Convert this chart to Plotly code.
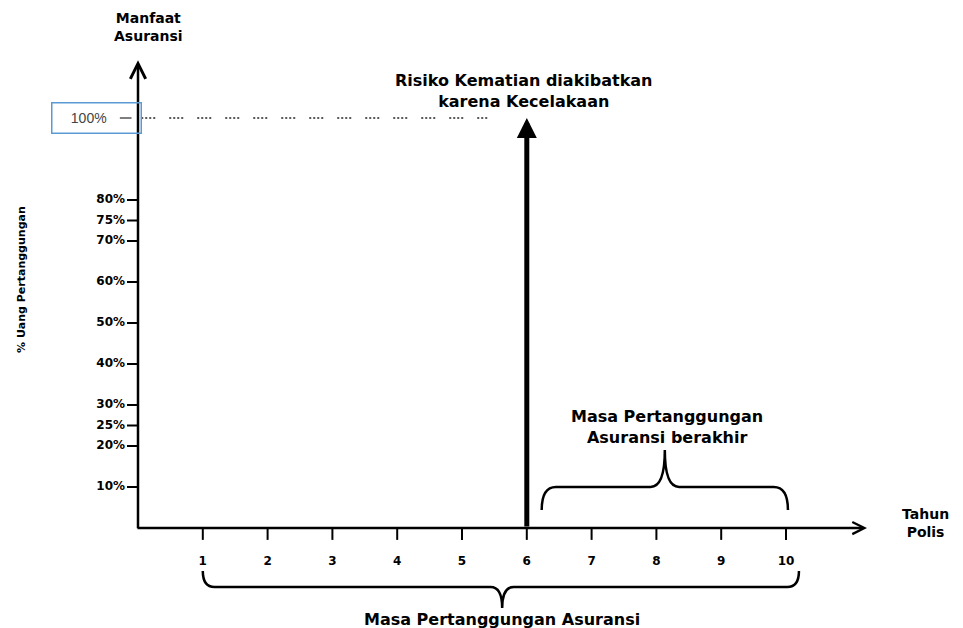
import plotly.graph_objects as go

# ---------------- data ----------------
policy_years = [1, 2, 3, 4, 5, 6, 7, 8, 9, 10]
year_labels = ["1", "2", "3", "4", "5", "6", "7", "8", "9", "10"]
pct_ticks = [10, 20, 25, 30, 40, 50, 60, 70, 75, 80, 100]
pct_labels = ["10%", "20%", "25%", "30%", "40%", "50%", "60%", "70%", "75%", "80%", "100%"]
death_year = 6          # year of accidental death
benefit_pct = 100       # benefit paid (% of sum assured)
coverage_start, coverage_end = 1, 10

FONT = "DejaVu Sans"
BLACK = "#000000"

fig = go.Figure()

# benefit level dotted guide (100%)
fig.add_trace(go.Scatter(
    x=[0.05, death_year - 0.6], y=[benefit_pct, benefit_pct], mode="lines",
    line=dict(color="#222222", width=1.5, dash="2px,2px,2px,2px,2px,2px,2px,14px"),
    hoverinfo="skip"))

# y tick marks (excluding highlighted 100%)
ytx, yty = [], []
for v in pct_ticks:
    if v == benefit_pct:
        continue
    ytx += [-0.17, 0, None]
    yty += [v, v, None]
fig.add_trace(go.Scatter(x=ytx, y=yty, mode="lines",
                         line=dict(color=BLACK, width=2), hoverinfo="skip"))
# 100% tick (grey, inside highlight box)
fig.add_trace(go.Scatter(x=[-0.28, -0.1], y=[benefit_pct, benefit_pct], mode="lines",
                         line=dict(color="#555555", width=1.5), hoverinfo="skip"))

# x tick marks
xtx, xty = [], []
for v in policy_years:
    xtx += [v, v, None]
    xty += [0, -2.9, None]
fig.add_trace(go.Scatter(x=xtx, y=xty, mode="lines",
                         line=dict(color=BLACK, width=2), hoverinfo="skip"))

# y tick labels
lab_y = [v for v in pct_ticks if v != benefit_pct]
lab_t = [t for v, t in zip(pct_ticks, pct_labels) if v != benefit_pct]
fig.add_trace(go.Scatter(
    x=[-0.2] * len(lab_y), y=lab_y, text=lab_t, mode="text",
    textposition="middle left",
    textfont=dict(family=FONT, size=12, color=BLACK, weight="bold"),
    hoverinfo="skip"))

# x tick labels
fig.add_trace(go.Scatter(
    x=policy_years, y=[-8.3] * len(policy_years), text=year_labels, mode="text",
    textposition="middle center",
    textfont=dict(family=FONT, size=12, color=BLACK, weight="bold"),
    hoverinfo="skip"))

annotations = []
# axes with arrow heads
annotations.append(dict(x=0, y=114.1, ax=0, ay=-0.4, xref="x", yref="y", axref="x", ayref="y",
                        text="", showarrow=True, arrowhead=5, arrowwidth=2.5, arrowsize=1.2,
                        arrowcolor=BLACK))
annotations.append(dict(x=11.25, y=0, ax=-0.03, ay=0, xref="x", yref="y", axref="x", ayref="y",
                        text="", showarrow=True, arrowhead=5, arrowwidth=2.5, arrowsize=0.95,
                        arrowcolor=BLACK))
# accidental death benefit arrow
annotations.append(dict(x=death_year, y=benefit_pct, ax=death_year, ay=0,
                        xref="x", yref="y", axref="x", ayref="y",
                        text="", showarrow=True, arrowhead=2, arrowwidth=5, arrowsize=0.8,
                        arrowcolor=BLACK))

# highlighted 100% label
annotations.append(dict(x=0.06, y=benefit_pct, xref="x", yref="y", xanchor="right", yanchor="middle",
                        text="100%    ", showarrow=False, width=86, height=27, align="center",
                        borderpad=1, bordercolor="#5b9bd5", borderwidth=1.5,
                        font=dict(family="Liberation Sans", size=14, color="#444444")))

bold = dict(family=FONT, color=BLACK, weight="bold")
annotations += [
    dict(x=0.16, y=122.3, text="Manfaat<br>Asuransi", showarrow=False,
         font=dict(size=14, **bold)),
    dict(x=-1.79, y=60.5, text="% Uang Pertanggungan", textangle=-90, showarrow=False,
         font=dict(size=11, **bold)),
    dict(x=5.96, y=106.5, text="Risiko Kematian diakibatkan<br>karena Kecelakaan", showarrow=False,
         font=dict(size=16, **bold)),
    dict(x=8.16, y=24.6, text="Masa Pertanggungan<br>Asuransi berakhir", showarrow=False,
         font=dict(size=16, **bold)),
    dict(x=12.15, y=1.2, text="Tahun<br>Polis", showarrow=False,
         font=dict(size=14, **bold)),
    dict(x=5.62, y=-22.4, text="Masa Pertanggungan Asuransi", showarrow=False,
         font=dict(size=16, **bold)),
]
for a in annotations:
    a.setdefault("xref", "x")
    a.setdefault("yref", "y")


def brace(L, R, M, yb, yh, yt, rx):
    return (f"M {L},{yb} Q {L},{yh} {L+rx},{yh} L {M-rx},{yh} Q {M},{yh} {M},{yt} "
            f"Q {M},{yh} {M+rx},{yh} L {R-rx},{yh} Q {R},{yh} {R},{yb}")


shapes = [
    # brace above years after death (coverage ended)
    dict(type="path", xref="x", yref="y",
         path=brace(death_year + 0.23, coverage_end + 0.03, 8.13, 4.4, 10.0, 19.0, 0.22),
         line=dict(color=BLACK, width=2.5)),
    # brace under full coverage period
    dict(type="path", xref="x", yref="y",
         path=brace(coverage_start, coverage_end + 0.2, 5.62, -10.5, -14.4, -19.5, 0.18),
         line=dict(color=BLACK, width=2.5)),
]

# page body has an 8px margin: figure is 955x620 so it fills the 963x628 window
fig.update_layout(
    width=955, height=620,
    margin=dict(l=0, r=0, t=0, b=0),
    paper_bgcolor="white", plot_bgcolor="white",
    showlegend=False,
    xaxis=dict(range=[-2.0062, 12.7315], visible=False, fixedrange=True),
    yaxis=dict(range=[-24.39, 126.83], visible=False, fixedrange=True),
    annotations=annotations,
    shapes=shapes,
)

fig.write_html("out.html")
